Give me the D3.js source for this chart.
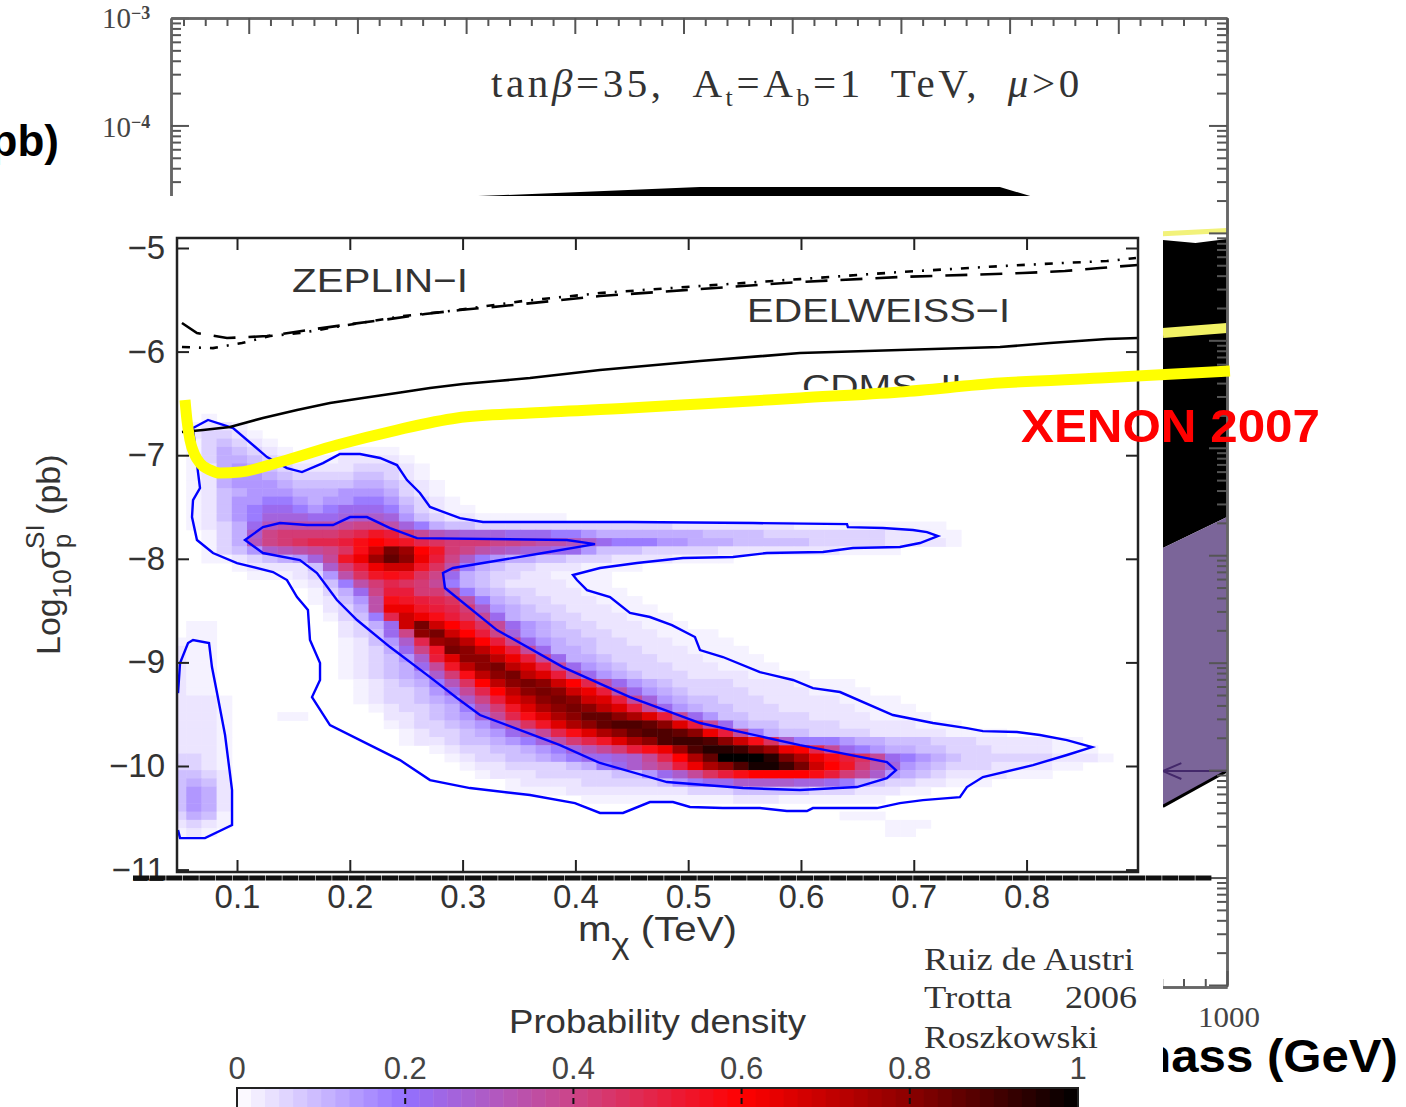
<!DOCTYPE html>
<html><head><meta charset="utf-8"><style>html,body{margin:0;padding:0;background:#fff;overflow:hidden}svg{display:block}</style>
<script src="https://cdn.jsdelivr.net/npm/d3@7"></script></head><body><div id="chart"></div>
<script>
// ---------- DATA ----------
const massTicks=[0.1,0.2,0.3,0.4,0.5,0.6,0.7,0.8];
const sigmaTicks=[-5,-6,-7,-8,-9,-10,-11];
const legendTicks=[0,0.2,0.4,0.6,0.8,1];
const legendStops=[0,0.2,0.4,0.6,0.8,1];
const legendColors=["#ffffff","#9370ff","#cc4488","#ff0000","#8b0000","#000000"];
// density grid: each row lists start column, base-36 level string
const lowLevels=[0,.018,.036,.062,.09,.115,.145,.185];
const heatRows=[
[2,"1"],[1,"1221"],[1,"23321"],[1,"134321"],
[1,"13543210",11,"1111"],[1,"135543211122221"],[1,"1256543222233321"],[1,"1256654333344321"],
[1,"12566654444554321"],[1,"12456665556665321"],[1,"124667765667764321"],[1,"1246788767888753211"],
[1,"12467999889aa964322111111"],
[1,"12358bccccdeec97544333333333333322222222"+"1111111111"],
[2,"135aeffffghjifdba999888776"+"5555555"+"4444"+"33333333"+"222"+"11"],
[2,"135befghhiklkjhgfffeedccba877766555444443333322221"],
[2,"1346abcdegkotrljfecba9988644433333"+"22222222"+"1111"],
[2,"1123456"+"9djmrusmiea"+"76554433"+"32222"+"1111"],
[4,"12222"+"4afimoojgc7"+"5433222"+"1111"],
[5,"11123"+"6cgjkjge85"+"43322"+"1111"],
[8,"1247cfhgfd754"+"32222111"],
[9,"1358eiiffc754"+"33222111"],
[9,"1246ckjihgc754"+"33222111"],
[10,"235cmmjihfa654"+"33222111"],
[10,"1347homkigd854"+"433222111"],
[1,"11",11,"2358otoljgd86"+"54"+"33222111"],
[1,"11",11,"2348estolie96"+"54"+"4332221111"],
[0,"111",11,"1246ahrsplie8"+"65"+"44"+"33"+"222"+"1111"],
[0,"211",11,"12358ejtspmid"+"8"+"55"+"4"+"333"+"222"+"1111"],
[0,"211",11,"12346ainsspmid"+"8554333222"+"1111"],
[0,"211",11,"123458djpstpnid"+"8654333222"+"1111"],
[0,"211",11,"123456afkpstpnid"+"8654333"+"2222"+"1111"],
[0,"211",12,"123457bglpstsolhc"+"8654"+"3333"+"2222"+"1111"],
[0,"211",12,"1233468dhlpstsomic"+"8654"+"3333"+"2222"+"1111"],
[0,"2221",12,"1233456"+"aeinpstsonid9"+"6544"+"333"+"22222"+"1111"],
[0,"2221",13,"123345"+"7bfjnqstspnid"+"86544"+"333"+"22222"+"1111"],
[0,"2221",7,"11",14,"223456"+"9dhknqsuusqnid"+"8644"+"3333"+"2222"+"1111"],
[0,"2221",14,"1233456"+"8cgjnqsuvvusnid"+"8544"+"3333"+"22222"+"111"],
[0,"2221",15,"1233456"+"8adhknqsuvvusmid"+"7544"+"3333"+"22222"+"1111"],
[0,"2221",15,"1223445"+"679cfhjnqsvwwvsokg"+"a777655444333"+"22222"+"11"],
[0,"2221",17,"123344567"+"9bdfikmrvxxwtrmlhd"+"8765544333"+"2222"+"111"],
[0,"3321",18,"12334456788"+"9adhlquzzzxtqmkigd"+"87654"+"333333"+"222"+"1"],
[0,"3321",19,"1223333457"+"8aceimqsvyywtoljfc9"+"654333"+"2222"+"11"],
[0,"4432",20,"122233333"+"4468adgikllllkifda"+"6543"+"2222"+"111"],
[0,"4542",22,"1222233333"+"46788aaaa9987543322111"],
[0,"4652",22,"1111"+"22222222"+"333"+"44444"+"333"+"222"+"11"],
[0,"4652",27,"1111111111"+"222"+"1111111"],
[0,"4652"],
[0,"3541",44,"111"],
[0,"2321",47,"111"],
[0,"121",47,"11"]
];
const heatX0=0.0415, heatDX=0.01347, heatY0=-6.6, heatDY=0.08;
const contourOuter=[[.061,-6.738],[.0743,-6.66],[.0965,-6.738],[.1266,-7.018],[.1443,-7.124],[.1576,-7.163],[.1762,-7.076],[.1913,-6.989],[.209,-6.989],[.2268,-7.027],[.2418,-7.095],[.2507,-7.24],[.2622,-7.365],[.2711,-7.5],[.2977,-7.607],[.3181,-7.645],[.4484,-7.645],[.5574,-7.655],[.6408,-7.665],[.6416,-7.694],[.6727,-7.703],[.6993,-7.722],[.7117,-7.742],[.7214,-7.78],[.7055,-7.848],[.6877,-7.886],[.6461,-7.896],[.6195,-7.935],[.5698,-7.944],[.5397,-7.983],[.4954,-7.993],[.4546,-8.041],[.4218,-8.089],[.3979,-8.157],[.4014,-8.205],[.4103,-8.302],[.4307,-8.369],[.4484,-8.523],[.4661,-8.562],[.4856,-8.64],[.506,-8.755],[.5105,-8.881],[.5308,-8.948],[.5636,-9.094],[.5929,-9.17],[.6106,-9.248],[.6346,-9.286],[.6815,-9.508],[.717,-9.585],[.7471,-9.634],[.7613,-9.663],[.7915,-9.672],[.8118,-9.701],[.8358,-9.75],[.858,-9.817],[.8358,-9.894],[.8057,-9.991],[.7613,-10.107],[.7471,-10.203],[.7409,-10.3],[.7081,-10.329],[.6877,-10.358],[.6673,-10.406],[.6106,-10.406],[.6053,-10.435],[.5875,-10.435],[.5636,-10.406],[.5308,-10.406],[.5016,-10.396],[.4865,-10.348],[.4661,-10.348],[.4422,-10.453],[.4218,-10.453],[.3996,-10.358],[.3597,-10.28],[.3065,-10.213],[.2711,-10.136],[.2445,-9.943],[.2179,-9.798],[.1824,-9.605],[.1665,-9.335],[.1736,-9.17],[.1736,-9.006],[.1647,-8.784],[.1629,-8.495],[.1532,-8.369],[.1443,-8.205],[.1319,-8.128],[.1,-8.041],[.0787,-7.944],[.0645,-7.819],[.0601,-7.597],[.061,-7.433],[.0672,-7.317],[.0654,-7.163]];
const contourInner=[[.1071,-7.819],[.123,-7.694],[.1381,-7.655],[.162,-7.674],[.1851,-7.674],[.2002,-7.597],[.2152,-7.597],[.2357,-7.703],[.2596,-7.8],[.3925,-7.819],[.4174,-7.858],[.3713,-7.944],[.3181,-8.041],[.2915,-8.089],[.2826,-8.137],[.2844,-8.282],[.3305,-8.688],[.389,-9.045],[.4484,-9.335],[.5105,-9.585],[.5991,-9.798],[.6762,-9.962],[.6842,-10.04],[.6762,-10.117],[.6496,-10.203],[.5991,-10.232],[.5486,-10.213],[.4812,-10.155],[.4218,-9.971],[.3864,-9.798],[.3154,-9.508],[.295,-9.344],[.2711,-9.142],[.2357,-8.852],[.2064,-8.591],[.1886,-8.398],[.1709,-8.137],[.1558,-8.012],[.123,-7.944]];
const contourBlob=[[.0477,-9.296],[.0495,-9.006],[.0566,-8.813],[.061,-8.784],[.0752,-8.813],[.0778,-9.045],[.0823,-9.296],[.0894,-9.701],[.0956,-10.232],[.0956,-10.57],[.0716,-10.696],[.0495,-10.696],[.0477,-10.618]];
const cdms=[[.0512,-6.776],[.0699,-6.757],[.0938,-6.728],[.123,-6.641],[.1532,-6.564],[.1824,-6.496],[.2117,-6.448],[.2418,-6.4],[.2711,-6.352],[.3003,-6.313],[.3305,-6.284],[.3597,-6.255],[.4218,-6.178],[.5105,-6.091],[.5991,-6.014],[.6877,-5.985],[.7764,-5.956],[.8207,-5.917],[.8712,-5.879],[.8988,-5.869]];
const edelweiss=[[.0512,-5.724],[.0645,-5.821],[.0911,-5.869],[.1266,-5.85],[.1629,-5.792],[.2011,-5.734],[.2294,-5.695],[.2667,-5.637],[.2977,-5.599],[.3358,-5.56],[.4218,-5.464],[.5105,-5.396],[.5991,-5.328],[.6877,-5.28],[.7968,-5.242],[.834,-5.222],[.8651,-5.193],[.8988,-5.164]];
const zeplin=[[.0512,-5.956],[.0787,-5.966],[.1044,-5.917],[.1293,-5.85],[.1558,-5.821],[.1975,-5.744],[.2472,-5.657],[.2888,-5.608],[.3535,-5.512],[.4218,-5.435],[.5105,-5.367],[.5991,-5.3],[.6877,-5.232],[.7782,-5.174],[.8314,-5.145],[.8712,-5.126],[.897,-5.097]];
const xenon=[[.0539,-6.468],[.0556,-6.66],[.0583,-6.854],[.0627,-6.999],[.0672,-7.076],[.0761,-7.143],[.0849,-7.173],[.1027,-7.163],[.1381,-7.066],[.1887,-6.902],[.2418,-6.757],[.295,-6.641],[.3597,-6.593],[.4484,-6.545],[.5105,-6.506],[.5991,-6.448],[.6877,-6.39],[.7764,-6.304],[.8651,-6.255],[.9803,-6.188]];
// underlying plot (GeV, pb)
const blackRegion=[[311,2.2e-5],[515,2.67e-5],[791,2.67e-5],[819,2.2e-5],[941,8.6e-6],[971,8.05e-6],[1000,8.77e-6],[1000,2.27e-8],[941,1.17e-8],[311,1.17e-8]];
const purpleRegion=[[941,1.17e-8],[1000,2.27e-8],[1000,9.8e-11],[941,4.53e-11]];
const purpleEdge=[[941,4.6e-11],[1000,9.8e-11]];
const purpleInner=[[941,9.8e-11],[1000,9.8e-11]];
const arrowMark=[[958,1.16e-10],[941,9.8e-11],[958,8.26e-11]];
const paleTop=[[941,9.8e-6],[1000,1.05e-5]];
const paleMid=[[941,1.17e-6],[1000,1.3e-6]];
const decades=[-3,-4,-5,-6,-7,-8,-9,-10,-11,-12];
const minorMult=[2,3,4,5,6,7,8,9];

// ---------- SCALES ----------
const W=1406,H=1107;
const svg=d3.select("#chart").append("svg").attr("width",W).attr("height",H).attr("viewBox",[0,0,W,H]);
const L=177,R=1138,T=238,B=872;
const x=d3.scaleLinear().domain([0.0468,0.8988]).range([L,R]);
const y=d3.scaleLinear().domain([-5,-11.0232]).range([248,872]);
const ux=d3.scaleLinear().domain([28.5,1000]).range([171,1227]);
const uy=d3.scaleLog().domain([1e-3,1e-12]).range([18,985]);
const lg=d3.scaleLinear().domain([0,1]).range([237,1078]);
const color=d3.scaleLinear().domain(legendStops).range(legendColors);
const A="'Liberation Sans',Arial,sans-serif", S="'Liberation Serif','Times New Roman',serif";

function label(g,t,px,py,size,o={}){
  const e=g.append("text").attr("x",px).attr("y",py).attr("font-family",o.font||A).attr("font-size",size)
    .attr("fill",o.fill||"#333").attr("font-weight",o.weight||null).attr("text-anchor",o.anchor||"start").text(t);
  if(o.len) e.attr("textLength",o.len).attr("lengthAdjust","spacingAndGlyphs");
  return e;
}

// ---------- UNDERLYING PLOT ----------
const under=svg.append("g");
const uline=d3.line().x(d=>ux(d[0])).y(d=>uy(d[1]));
under.append("path").attr("d",uline(blackRegion)+"Z").attr("fill","#000");
under.append("path").attr("d",uline(purpleRegion)+"Z").attr("fill","#7b6599");
under.append("path").attr("d",uline(purpleEdge)).attr("stroke","#000").attr("stroke-width",3).attr("fill","none");
under.append("path").attr("d",uline(purpleInner)).attr("stroke","#43286a").attr("stroke-width",2).attr("fill","none");
under.append("path").attr("d",uline(arrowMark)).attr("stroke","#43286a").attr("stroke-width",2).attr("fill","none");
under.append("path").attr("d",uline(paleTop)).attr("stroke","#f2f27a").attr("stroke-width",5).attr("fill","none");
under.append("path").attr("d",uline(paleMid)).attr("stroke","#f2f265").attr("stroke-width",10).attr("fill","none");

const minorLog=decades.slice(1).flatMap(d=>minorMult.map(m=>m*Math.pow(10,d)));
const majorLog=decades.map(d=>Math.pow(10,d));
const uxMajor=d3.range(100,1001,100), uxMinor=d3.range(40,1000,20).filter(v=>v%100!==0);
function styleU(g){g.selectAll("path.domain").attr("stroke","#666").attr("stroke-width",2.5);g.selectAll("line").attr("stroke","#555").attr("stroke-width",2);g.selectAll("text").remove();}
[[d3.axisLeft,171,0,uy,minorLog,-10],[d3.axisLeft,171,0,uy,majorLog,-18],
 [d3.axisRight,1227,0,uy,minorLog,-10],[d3.axisRight,1227,0,uy,majorLog,-18],
 [d3.axisTop,0,18,ux,uxMinor,-8],[d3.axisTop,0,18,ux,uxMajor,-16],
 [d3.axisBottom,0,987,ux,uxMinor,-8],[d3.axisBottom,0,987,ux,uxMajor,-16]].forEach(([ax,tx,ty,sc,vals,sz])=>{
  under.append("g").attr("transform",`translate(${tx},${ty})`).call(ax(sc).tickValues(vals).tickSize(sz).tickSizeOuter(0)).call(styleU);
});
[["10","−3",18],["10","−4",127]].forEach(([b,e,py])=>{
  const t=under.append("text").attr("x",102).attr("y",py+10).attr("font-family",S).attr("font-size",29).attr("fill","#444");
  t.append("tspan").text(b);
  t.append("tspan").attr("dy",-9).attr("font-size",18).attr("font-weight","bold").text(e);
});
const tb=under.append("text").attr("x",491).attr("y",97).attr("font-family",S).attr("font-size",41).attr("fill","#333").attr("letter-spacing",3.6).style("white-space","pre");
tb.append("tspan").text("tan");
tb.append("tspan").attr("font-style","italic").text("β");
tb.append("tspan").text("=35,  A");
tb.append("tspan").attr("dy",9).attr("font-size",26).text("t");
tb.append("tspan").attr("dy",-9).text("=A");
tb.append("tspan").attr("dy",9).attr("font-size",26).text("b");
tb.append("tspan").attr("dy",-9).text("=1  TeV,  ");
tb.append("tspan").attr("font-style","italic").text("μ");
tb.append("tspan").text(">0");
label(under,"1000",1229,1027,30,{font:S,anchor:"middle",fill:"#444",len:62});
label(under,"pb)",59,156,44,{weight:"bold",anchor:"end",fill:"#000"});
label(under,"WIMP mass (GeV)",981,1072,46,{weight:"bold",fill:"#000",len:417});
// pasted panel hides most of the underlying plot
under.append("rect").attr("x",0).attr("y",196).attr("width",1163).attr("height",H-196).attr("fill","#fff");

// ---------- MAIN PANEL ----------
const main=svg.append("g");
const defs=svg.append("defs");
defs.append("clipPath").attr("id","plot").append("rect").attr("x",L).attr("y",T).attr("width",R-L).attr("height",B-T);
defs.append("clipPath").attr("id","cdmsClip").append("rect").attr("x",780).attr("y",360).attr("width",220).attr("height",30);
defs.append("filter").attr("id","soft").attr("x",0).attr("y",0).attr("width",1).attr("height",1).append("feGaussianBlur").attr("stdDeviation",0.7);

const cells=[];
heatRows.forEach((row,r)=>{
  for(let k=0;k<row.length;k+=2){
    [...row[k+1]].forEach((ch,i)=>{
      const n=parseInt(ch,36);
      const v=n<lowLevels.length?lowLevels[n]:n/35;
      if(v>0) cells.push({c:row[k]+i,r,v});
    });
  }
});
main.append("g").attr("clip-path","url(#plot)").append("g").attr("filter","url(#soft)")
  .selectAll("rect").data(cells).join("rect")
  .attr("x",d=>x(heatX0+d.c*heatDX)).attr("y",d=>y(heatY0-d.r*heatDY))
  .attr("width",x(heatDX)-x(0)+0.5).attr("height",y(-heatDY)-y(0)+0.5)
  .attr("fill",d=>color(d.v));

const pline=d3.line().x(d=>x(d[0])).y(d=>y(d[1]));
const clipped=main.append("g").attr("clip-path","url(#plot)");
[[contourOuter,true],[contourInner,true],[contourBlob,false]].forEach(([pts,closed])=>{
  clipped.append("path").attr("d",pline(pts)+(closed?"Z":"")).attr("fill","none").attr("stroke","#0000ff").attr("stroke-width",2.4);
});
clipped.append("path").attr("d",pline(cdms)).attr("fill","none").attr("stroke","#000").attr("stroke-width",2.6);
clipped.append("path").attr("d",pline(edelweiss)).attr("fill","none").attr("stroke","#000").attr("stroke-width",2.6).attr("stroke-dasharray","22 13");
clipped.append("path").attr("d",pline(zeplin)).attr("fill","none").attr("stroke","#000").attr("stroke-width",2.6).attr("stroke-dasharray","8 9 2 9");

main.append("rect").attr("x",L).attr("y",T).attr("width",R-L).attr("height",B-T).attr("fill","none").attr("stroke","#222").attr("stroke-width",2.5);
function styleM(g){g.select("path.domain").remove();g.selectAll("line").attr("stroke","#222").attr("stroke-width",2);g.selectAll("text").attr("font-family",A).attr("font-size",33).attr("fill","#333");}
main.append("g").attr("transform",`translate(0,${B})`).call(d3.axisBottom(x).tickValues(massTicks).tickSizeInner(-12).tickSizeOuter(0).tickPadding(13).tickFormat(d3.format(".1f"))).call(styleM);
main.append("g").attr("transform",`translate(0,${T})`).call(d3.axisTop(x).tickValues(massTicks).tickSizeInner(-12).tickSizeOuter(0).tickFormat("")).call(styleM);
main.append("g").attr("transform",`translate(${L},0)`).call(d3.axisLeft(y).tickValues(sigmaTicks).tickSizeInner(-12).tickSizeOuter(0).tickPadding(12).tickFormat(d=>"−"+Math.abs(d))).call(styleM);
main.append("g").attr("transform",`translate(${R},0)`).call(d3.axisRight(y).tickValues(sigmaTicks).tickSizeInner(-12).tickSizeOuter(0).tickFormat("")).call(styleM);

label(main,"ZEPLIN−I",292,292,34,{len:176});
label(main,"EDELWEISS−I",747,322,34,{len:263});
label(main,"CDMS−II",802,398,34,{len:160}).attr("clip-path","url(#cdmsClip)");

const yl=main.append("text").attr("transform","translate(60,655) rotate(-90)").attr("font-family",A).attr("font-size",34).attr("fill","#333");
yl.append("tspan").text("Log");
yl.append("tspan").attr("dy",11).attr("font-size",26).text("10");
yl.append("tspan").attr("dy",-11).text("σ");
yl.append("tspan").attr("dy",11).attr("font-size",26).text("p");
yl.append("tspan").attr("dy",-27).attr("dx",-15).attr("font-size",26).text("SI");
yl.append("tspan").attr("dy",16).text(" (pb)");
const xl=main.append("text").attr("x",578).attr("y",941).attr("font-family",A).attr("font-size",35).attr("fill","#333").attr("textLength",159).attr("lengthAdjust","spacingAndGlyphs");
xl.append("tspan").text("m");
xl.append("tspan").attr("dy",13).attr("font-size",30).text("χ");
xl.append("tspan").attr("dy",-13).text(" (TeV)");

label(main,"Ruiz de Austri",924,970,32,{font:S,len:210});
label(main,"Trotta",924,1008,32,{font:S,len:88});
label(main,"2006",1065,1008,32,{font:S,len:72});
label(main,"Roszkowski",924,1048,32,{font:S,len:174});

// thick base line of the pasted panel
main.append("line").attr("x1",133).attr("x2",1212).attr("y1",878).attr("y2",878).attr("stroke","#111").attr("stroke-width",5).attr("stroke-dasharray","16 0.6");

// XENON limit
svg.append("path").attr("d",pline.curve(d3.curveMonotoneX)(xenon)).attr("fill","none").attr("stroke","#ffff00").attr("stroke-width",11);
label(svg,"XENON 2007",1021,442,47,{weight:"bold",fill:"#ff0000",len:299});

// ---------- COLOUR BAR ----------
const bar=svg.append("g");
label(bar,"Probability density",509,1033,34,{len:297});
const nSteps=60;
bar.selectAll("rect.s").data(d3.range(nSteps)).join("rect").attr("class","s")
  .attr("x",i=>lg(i/nSteps)).attr("y",1088).attr("width",lg(1/nSteps)-lg(0)+0.5).attr("height",H-1088)
  .attr("fill",i=>color((i+0.5)/nSteps));
bar.append("path").attr("d",`M${lg(0)},${H}V1088H${lg(1)}V${H}`).attr("fill","none").attr("stroke","#222").attr("stroke-width",2);
bar.selectAll("line.t").data(legendTicks.slice(1,-1)).join("line").attr("class","t")
  .attr("x1",d=>lg(d)).attr("x2",d=>lg(d)).attr("y1",1088).attr("y2",H).attr("stroke","#111").attr("stroke-width",2).attr("stroke-dasharray","6 4");
bar.selectAll("text.t").data(legendTicks).join("text").attr("class","t")
  .attr("x",d=>lg(d)).attr("y",1079).attr("text-anchor","middle").attr("font-family",A).attr("font-size",31).attr("fill","#444")
  .text(d=>d3.format("~g")(d));
</script></body></html>
